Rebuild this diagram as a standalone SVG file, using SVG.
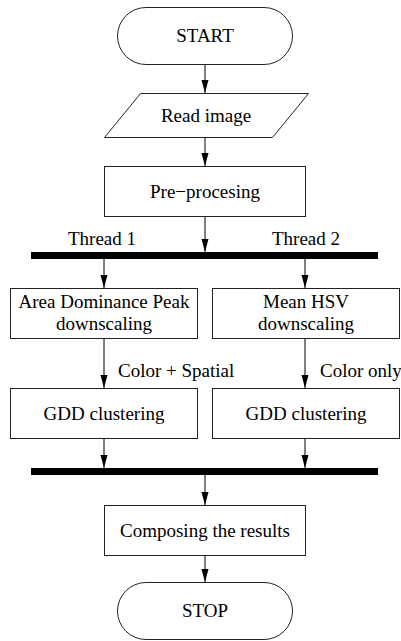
<svg xmlns="http://www.w3.org/2000/svg" width="401" height="641" viewBox="0 0 401 641">
<style>
.sh{fill:#fff;stroke:#222;stroke-width:1}
.ln{fill:none;stroke:#000;stroke-width:1}
.bar{fill:#000}
text{font-family:"Liberation Serif","Times New Roman",serif;font-size:19px;fill:#000}
.c{text-anchor:middle}
</style>
<defs>
<marker id="ah" markerUnits="userSpaceOnUse" markerWidth="14" markerHeight="8" refX="13" refY="4" orient="auto">
<path d="M0,0.5 L13,4 L0,7.5 z" fill="#000"/>
</marker>
</defs>
<rect width="401" height="641" fill="#fff"/>
<g id="connectors">
<line class="ln" x1="205" y1="64" x2="205" y2="93" marker-end="url(#ah)"/>
<line class="ln" x1="205" y1="137" x2="205" y2="166" marker-end="url(#ah)"/>
<line class="ln" x1="205" y1="216" x2="205" y2="252" marker-end="url(#ah)"/>
<line class="ln" x1="104" y1="259" x2="104" y2="288" marker-end="url(#ah)"/>
<line class="ln" x1="305" y1="259" x2="305" y2="288" marker-end="url(#ah)"/>
<line class="ln" x1="104" y1="338" x2="104" y2="388" marker-end="url(#ah)"/>
<line class="ln" x1="305" y1="338" x2="305" y2="388" marker-end="url(#ah)"/>
<line class="ln" x1="104" y1="439" x2="104" y2="468" marker-end="url(#ah)"/>
<line class="ln" x1="305" y1="439" x2="305" y2="468" marker-end="url(#ah)"/>
<line class="ln" x1="205" y1="475" x2="205" y2="505" marker-end="url(#ah)"/>
<line class="ln" x1="205" y1="555" x2="205" y2="582" marker-end="url(#ah)"/>
<text x="118" y="377">Color + Spatial</text>
<text x="320" y="377">Color only</text>
</g>
<g id="start">
<rect class="sh" x="117.5" y="7.5" width="175" height="57" rx="28.5" ry="28.5"/>
<text class="c" x="205" y="42">START</text>
</g>
<g id="read-image">
<polygon class="sh" points="140.5,93.5 308.5,93.5 272.5,137.5 104.5,137.5"/>
<text class="c" x="206" y="122">Read image</text>
</g>
<g id="preprocessing">
<rect class="sh" x="104.5" y="166.5" width="201" height="50"/>
<text class="c" x="205" y="198">Pre−procesing</text>
</g>
<g id="fork">
<rect class="bar" x="31" y="252" width="347" height="7"/>
<text x="68" y="245">Thread 1</text>
<text x="272" y="245">Thread 2</text>
</g>
<g id="adp-downscaling">
<rect class="sh" x="10.5" y="288.5" width="187" height="50"/>
<text class="c" x="104" y="308">Area Dominance Peak</text>
<text class="c" x="104" y="330">downscaling</text>
</g>
<g id="hsv-downscaling">
<rect class="sh" x="212.5" y="288.5" width="187" height="50"/>
<text class="c" x="306" y="308">Mean HSV</text>
<text class="c" x="306" y="330">downscaling</text>
</g>
<g id="gdd-left">
<rect class="sh" x="10.5" y="388.5" width="187" height="50"/>
<text class="c" x="104" y="420">GDD clustering</text>
</g>
<g id="gdd-right">
<rect class="sh" x="212.5" y="388.5" width="187" height="50"/>
<text class="c" x="306" y="420">GDD clustering</text>
</g>
<g id="join">
<rect class="bar" x="31" y="468" width="347" height="7"/>
</g>
<g id="composing">
<rect class="sh" x="104.5" y="505.5" width="201" height="50"/>
<text class="c" x="205" y="537">Composing the results</text>
</g>
<g id="stop">
<rect class="sh" x="117.5" y="582.5" width="175" height="57" rx="28.5" ry="28.5"/>
<text class="c" x="205" y="617">STOP</text>
</g>
</svg>
